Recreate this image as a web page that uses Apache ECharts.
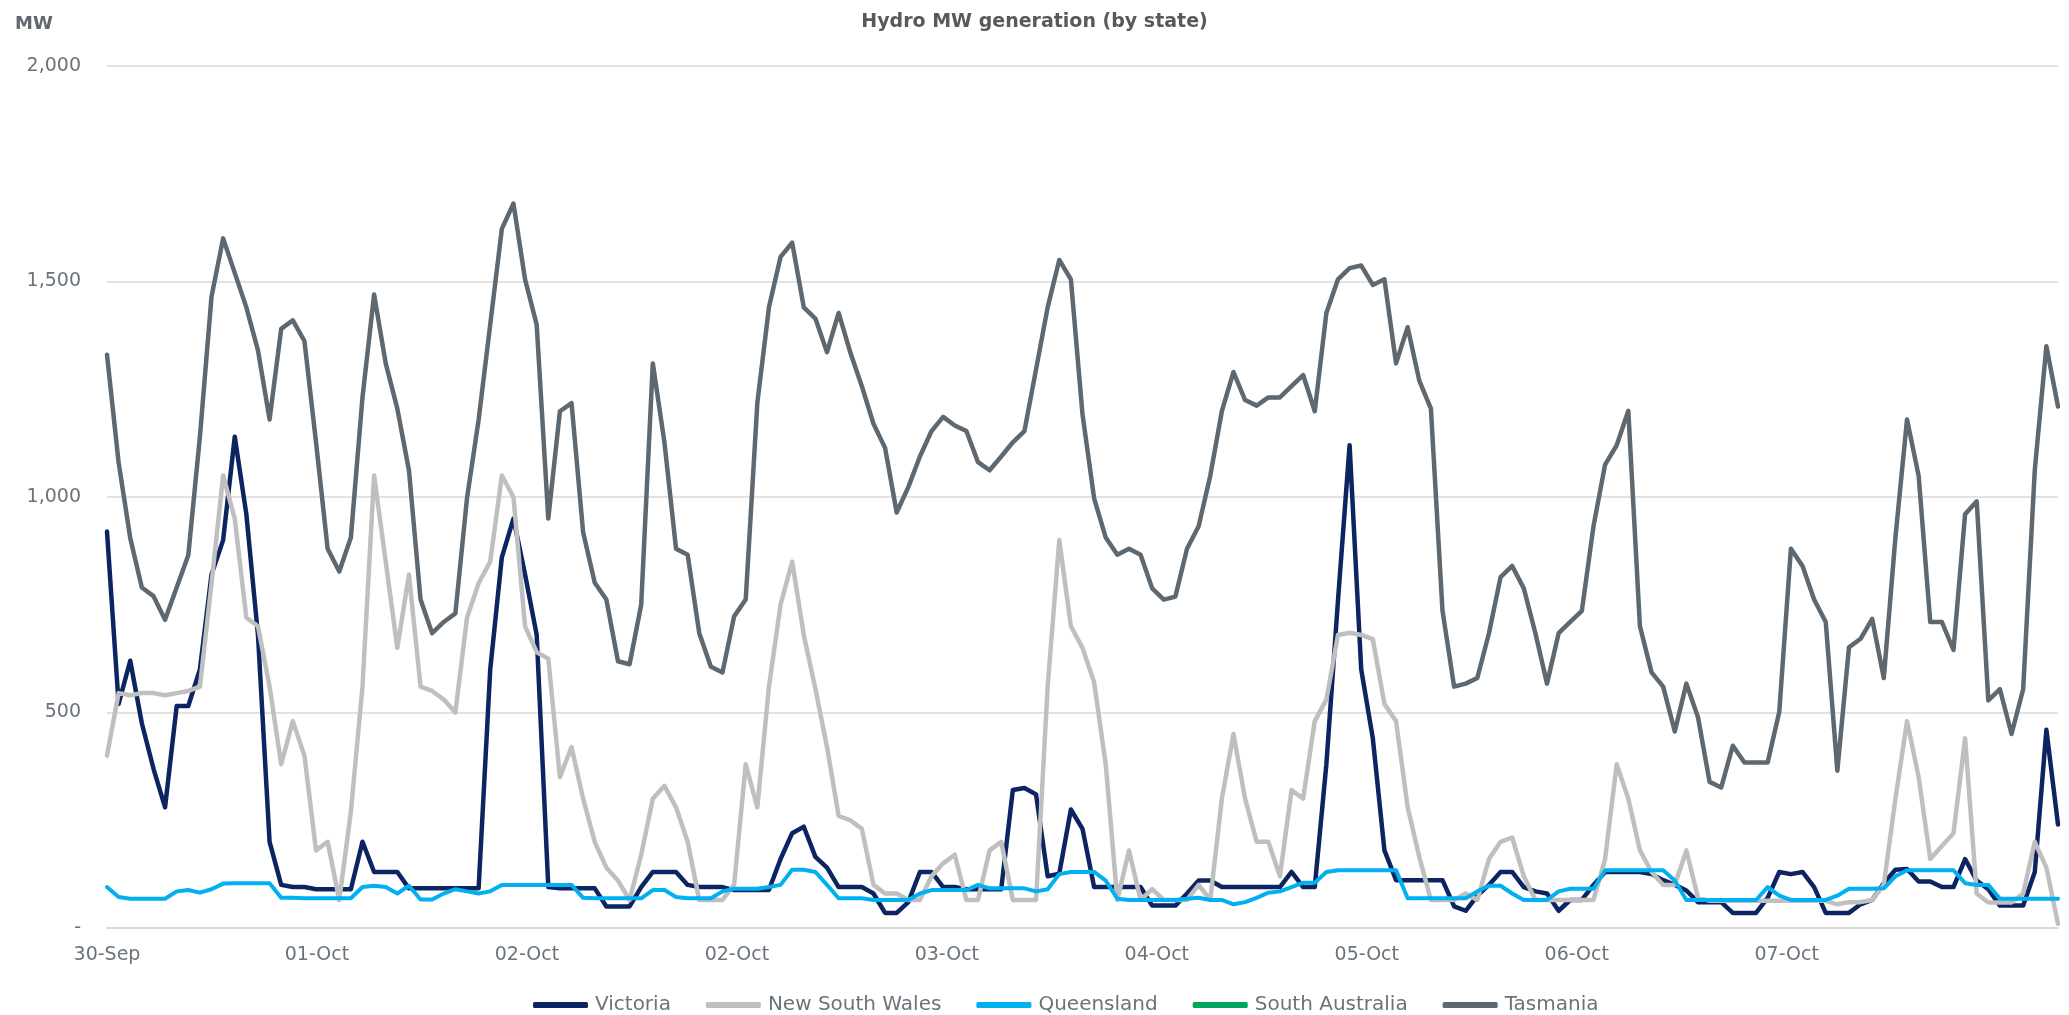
<!DOCTYPE html>
<html lang="en">
<head>
<meta charset="utf-8">
<title>Hydro MW generation (by state)</title>
<script src="https://cdn.jsdelivr.net/npm/echarts@6/dist/echarts.min.js"></script>
<style>
  html, body { margin: 0; padding: 0; background: #ffffff; }
  #chart { width: 2069px; height: 1015px; }
</style>
</head>
<body>
<div id="chart"></div>
<script>
// hourly readings over 168 hours (169 points), x = hours from the first reading
var tickLabels = ['30-Sep', '01-Oct', '02-Oct', '02-Oct', '03-Oct', '04-Oct', '05-Oct', '06-Oct', '07-Oct'];
var tickStep = 18.08;   // hours between date labels
var seriesNames = ['Victoria', 'New South Wales', 'Queensland', 'South Australia', 'Tasmania'];
var yTicks = [0, 500, 1000, 1500, 2000];

var vicMW = [
  920, 520, 620, 475, 370, 280, 515, 515, 600, 820, 900, 1140, 960, 680, 200, 100, 95,
  95, 90, 90, 90, 90, 200, 130, 130, 130, 92, 92, 92, 92, 92, 92, 92, 600,
  860, 950, 820, 680, 95, 92, 92, 92, 92, 50, 50, 50, 95, 130, 130, 130,
  100, 95, 95, 95, 88, 88, 88, 88, 160, 220, 235, 165, 140, 95, 95, 95, 80,
  35, 35, 60, 130, 130, 95, 95, 90, 90, 90, 90, 320, 325, 310, 120, 126,
  275, 230, 95, 95, 95, 95, 95, 52, 52, 52, 80, 110, 110, 95, 95, 95, 95,
  95, 95, 130, 95, 95, 380, 760, 1120, 600, 440, 180, 111, 111, 111, 111, 111, 50,
  40, 75, 100, 130, 130, 95, 85, 80, 40, 65, 65, 100, 130, 130, 130, 130,
  125, 111, 100, 87, 60, 60, 60, 35, 35, 35, 70, 130, 125, 130, 95, 35, 35,
  35, 55, 65, 104, 135, 137, 108, 108, 95, 95, 160, 110, 90, 52, 52, 52, 130, 460, 240
];
var nswMW = [
  400, 545, 540, 545, 545, 540, 545, 550, 560, 800, 1050, 950, 720, 700, 560, 380, 480,
  400, 180, 200, 65, 270, 560, 1050, 850, 650, 820, 560, 550, 530, 500, 720, 800, 850,
  1050, 1000, 700, 640, 625, 350, 420, 300, 200, 140, 110, 65, 170, 300, 330, 280,
  200, 65, 65, 65, 100, 380, 280, 560, 750, 850, 680, 555, 420, 260, 250, 230, 100,
  80, 80, 65, 65, 120, 150, 170, 65, 65, 180, 200, 65, 65, 65, 560, 900,
  700, 650, 570, 380, 65, 180, 65, 90, 65, 65, 65, 100, 65, 300, 450, 300, 200,
  200, 120, 320, 300, 480, 530, 680, 685, 680, 670, 520, 480, 280, 165, 65, 65, 65,
  80, 65, 160, 200, 210, 120, 65, 65, 65, 65, 65, 65, 160, 380, 300, 180,
  130, 100, 100, 180, 70, 63, 63, 63, 63, 63, 63, 63, 63, 63, 63, 63, 55,
  60, 60, 65, 100, 300, 480, 350, 160, 190, 220, 440, 80, 59, 59, 59, 80, 200, 140, 10
];
var qldMW = [
  95, 72, 68, 68, 68, 68, 85, 88, 82, 90, 103, 104, 104, 104, 104, 70, 70,
  69, 69, 69, 69, 69, 95, 98, 95, 80, 98, 66, 66, 80, 90, 85, 80, 85,
  100, 100, 100, 100, 100, 100, 100, 70, 69, 69, 69, 69, 69, 88, 88, 72,
  69, 69, 69, 85, 91, 91, 91, 95, 100, 135, 135, 130, 100, 69, 69, 69, 65,
  65, 65, 65, 80, 88, 88, 88, 88, 100, 92, 92, 92, 92, 85, 90, 125,
  130, 130, 130, 110, 68, 65, 65, 65, 65, 65, 68, 70, 65, 65, 55, 60, 70,
  82, 85, 95, 105, 105, 130, 134, 134, 134, 134, 134, 134, 69, 69, 69, 69, 69,
  69, 85, 98, 98, 80, 65, 65, 65, 85, 91, 91, 91, 134, 134, 134, 134,
  134, 134, 110, 65, 65, 65, 65, 65, 65, 65, 95, 75, 65, 65, 65, 65, 75,
  91, 91, 91, 92, 120, 134, 134, 134, 134, 134, 104, 100, 100, 68, 68, 68, 68, 68, 68
];
// no South Australian hydro output in the period
var saMW = [];
var tasMW = [
  1330, 1080, 905, 790, 770, 715, 790, 865, 1140, 1465, 1600, 1520, 1440, 1340, 1180, 1390, 1410,
  1362, 1127, 880, 827, 906, 1231, 1470, 1310, 1205, 1062, 762, 684, 710, 730, 997, 1179, 1400,
  1622, 1681, 1505, 1400, 950, 1199, 1218, 918, 801, 762, 619, 612, 750, 1310, 1127, 880,
  866, 684, 606, 593, 723, 762, 1218, 1440, 1557, 1590, 1440, 1414, 1336, 1427, 1336, 1257, 1170,
  1114, 964, 1023, 1094, 1153, 1186, 1166, 1153, 1081, 1062, 1094, 1127, 1153, 1296, 1440, 1550,
  1505, 1192, 997, 906, 866, 880, 866, 788, 762, 769, 880, 932, 1049, 1199, 1290, 1225, 1212,
  1231, 1231, 1257, 1283, 1199, 1427, 1505, 1531, 1537, 1492, 1505, 1310, 1394, 1270, 1205, 736, 560,
  567, 580, 684, 814, 840, 788, 684, 567, 684, 710, 736, 932, 1075, 1120, 1200, 700,
  593, 560, 456, 567, 489, 339, 326, 423, 384, 384, 384, 502, 880, 840, 762, 710, 365,
  651, 671, 717, 580, 906, 1180, 1049, 710, 710, 645, 960, 990, 528, 554, 450, 554, 1062, 1350, 1210
];

var colors = ['#0c2461', '#bfbfbf', '#00b0f0', '#00a65d', '#5e6870'];
var widths = [4.5, 4.5, 4, 4.5, 4.5];
var values = [vicMW, nswMW, qldMW, saMW, tasMW];

var textGrey = '#6b737a';
var labelFont = 'DejaVu Sans';

function toPairs(arr) {
  var out = [];
  for (var i = 0; i < arr.length; i++) out.push([i, arr[i]]);
  return out;
}

var myChart = echarts.init(document.getElementById('chart'));

var series = [];
for (var s = 0; s < seriesNames.length; s++) {
  series.push({
    name: seriesNames[s],
    type: 'line',
    data: toPairs(values[s]),
    showSymbol: false,
    symbol: 'none',
    animation: false,
    lineStyle: { color: colors[s], width: widths[s], join: 'round', cap: 'round' },
    itemStyle: { color: colors[s] }
  });
}

var option = {
  backgroundColor: '#ffffff',
  animation: false,
  title: {
    text: 'Hydro MW generation (by state)',
    left: 'center',
    top: 8,
    textStyle: { color: '#595959', fontSize: 19, fontWeight: 'bold', fontFamily: labelFont }
  },
  graphic: [{
    type: 'text',
    left: 15,
    top: 15,
    style: { text: 'MW', fill: '#5e6870', font: 'bold 18px "DejaVu Sans"' }
  }],
  legend: {
    data: seriesNames,
    left: 528,
    top: 990,
    itemWidth: 55,
    itemHeight: 6,
    itemGap: 35,
    icon: 'roundRect',
    textStyle: { color: textGrey, fontSize: 20, fontFamily: labelFont, padding: [0, 0, 0, 2] }
  },
  grid: { left: 107, right: 11, top: 66, bottom: 87, containLabel: false },
  xAxis: {
    type: 'value',
    min: 0,
    max: tasMW.length - 1,
    interval: tickStep,
    axisLine: { show: true, lineStyle: { color: '#d9d9d9', width: 2 } },
    axisTick: { show: false },
    axisLabel: {
      showMaxLabel: false,
      color: textGrey,
      fontSize: 19,
      fontFamily: labelFont,
      margin: 18,
      formatter: function (v) {
        var k = Math.round(v / tickStep);
        return k < tickLabels.length ? tickLabels[k] : '';
      }
    },
    splitLine: { show: false }
  },
  yAxis: {
    type: 'value',
    min: yTicks[0],
    max: yTicks[yTicks.length - 1],
    interval: 500,
    axisLine: { show: false },
    axisTick: { show: false },
    axisLabel: {
      color: textGrey,
      fontSize: 19,
      fontFamily: labelFont,
      margin: 26,
      formatter: function (v) { return v === 0 ? '-' : v.toLocaleString('en-US'); }
    },
    splitLine: { lineStyle: { color: '#d9d9d9', width: 1.5 } }
  },
  series: series
};
myChart.setOption(option);
</script>
</body>
</html>
